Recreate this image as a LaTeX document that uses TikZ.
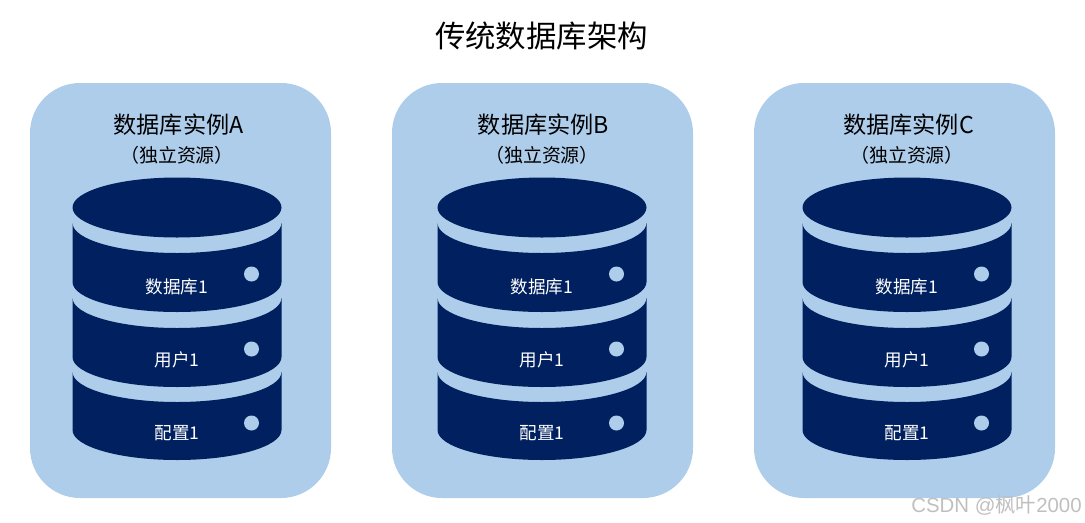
\documentclass[tikz,border=0pt]{standalone}
\usepackage{fontspec}
\setmainfont{Noto Sans CJK SC}
\newfontfamily\marklatin{Liberation Sans}
\usepackage{xcolor}
\usetikzlibrary{positioning}
\definecolor{panelblue}{HTML}{AECDEB}
\definecolor{dbnavy}{HTML}{002060}
\tikzset{
  panelbox/.style={fill=panelblue,rounded corners=1cm,minimum width=6.02cm,minimum height=8.3cm,inner sep=0pt},
  dbband/.style={fill=dbnavy},
  dbdot/.style={circle,fill=panelblue,minimum size=0.3cm,inner sep=0pt},
  dblabel/.style={text=white,font=\fontsize{10}{12}\selectfont,inner sep=0pt},
}
\begin{document}
\begin{tikzpicture}
    \useasboundingbox (0,0) rectangle (21.7,-10.44);
    \node[font=\fontsize{17.3}{20}\selectfont,inner sep=0pt] (title) at (10.83,-0.72) {传统数据库架构};
    \foreach \name/\px/\x in {A/3.61/3.54,B/10.85/10.84,C/18.09/18.14} {
      \node[panelbox] (panel\name) at (\px,-5.81) {};
      \node[font=\fontsize{13.2}{16}\selectfont,inner sep=0pt] (head\name) at (\x+0.03,-2.5) {数据库实例\name};
      \node[font=\fontsize{10.8}{13}\selectfont,inner sep=0pt] (sub\name) at (\x,-3.1) {（独立资源）};
      % top disc
      \fill[dbband] (\x,-4.15) ellipse[x radius=2.09,y radius=0.6];
      % three bands
      \foreach \top/\bot/\doty/\texty/\lab in {-4.46/-5.64/-5.48/-5.74/数据库1,-5.96/-7.14/-6.98/-7.2/用户1,-7.44/-8.6/-8.46/-8.66/配置1} {
        \fill[dbband] (\x-2.09,\top) arc[start angle=180,end angle=360,x radius=2.09,y radius=0.6]
          -- (\x+2.09,\bot) arc[start angle=360,end angle=180,x radius=2.09,y radius=0.6] -- cycle;
        \node[dbdot] at (\x+1.49,\doty) {};
        \node[dblabel] at (\x,\texty) {\lab};
      }
    }
    \node[text=gray!50,font=\fontsize{11.6}{14}\selectfont,inner sep=0pt,anchor=east] (mark) at (21.64,-10.1) {{\marklatin CSDN @}枫叶{\marklatin 2000}};
  \end{tikzpicture}
\end{document}
